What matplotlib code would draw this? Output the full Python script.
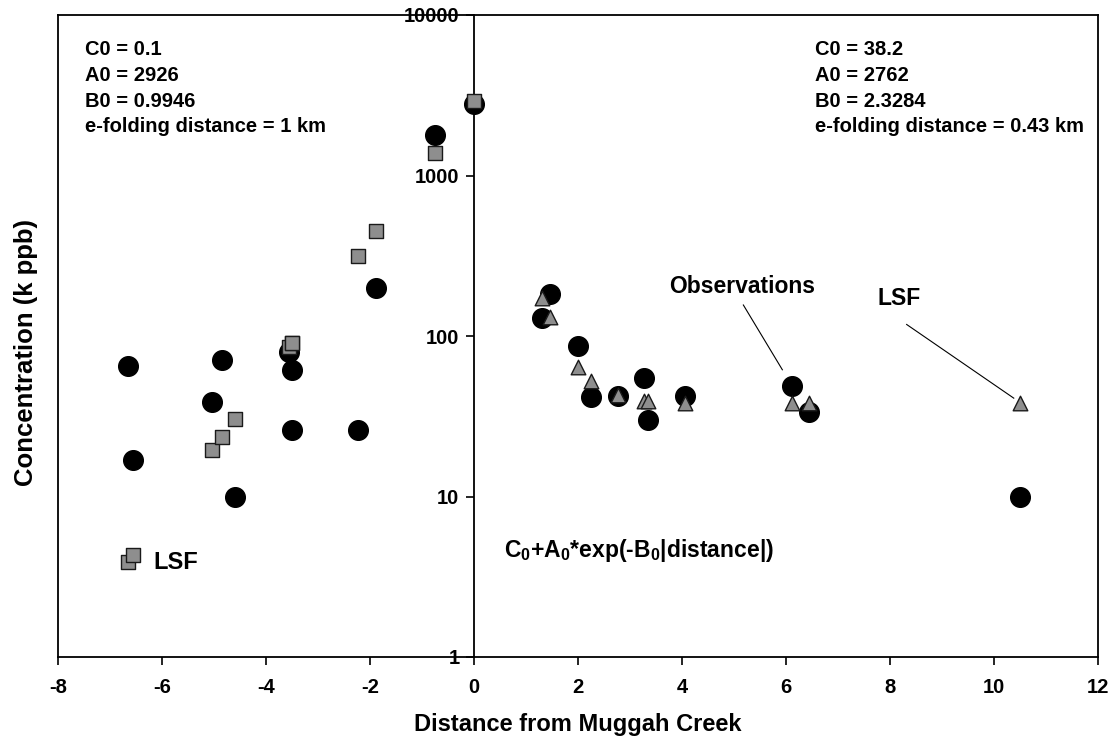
import matplotlib
matplotlib.use("Agg")
import matplotlib.pyplot as plt
from matplotlib.ticker import FixedLocator, NullLocator

plt.rcParams['font.family'] = ['Liberation Sans', 'DejaVu Sans']
plt.rcParams['font.weight'] = 'bold'
plt.rcParams['mathtext.fontset'] = 'custom'
plt.rcParams['mathtext.rm'] = 'Liberation Sans:bold'
plt.rcParams['mathtext.it'] = 'Liberation Sans:bold'
plt.rcParams['mathtext.bf'] = 'Liberation Sans:bold'

# west of the creek (negative distance): observations and least-squares fit
west_dist = [-6.65, -6.55, -5.04, -4.85, -4.60, -3.55, -3.50, -3.50, -2.24, -1.88, -0.75, 0.0]
west_obs = [65, 17, 39, 71, 10, 80, 61, 26, 26, 200, 1800, 2800]
west_lsf = [3.9, 4.3, 19.5, 23.5, 30.2, 85.7, 90, 90, 315, 450, 1388, 2926]

# east of the creek
east_dist = [1.30, 1.46, 2.00, 2.25, 2.76, 3.26, 3.35, 4.06, 6.11, 6.45, 10.5]
east_obs = [130, 182, 87, 41.5, 42, 55, 30, 42, 49, 33.5, 10]
east_lsf = [172, 132, 64.4, 52.8, 42.7, 39.6, 39.3, 38.4, 38.2, 38.2, 38.2]

west_params = ["C0 = 0.1", "A0 = 2926", "B0 = 0.9946", "e-folding distance = 1 km"]
east_params = ["C0 = 38.2", "A0 = 2762", "B0 = 2.3284", "e-folding distance = 0.43 km"]

y_ticks = [1, 10, 100, 1000, 10000]
x_ticks = list(range(-8, 13, 2))

GRAY = '#8e8e8e'
FS = 14.5

fig = plt.figure(figsize=(11.16, 7.4), dpi=100)
ax = fig.add_axes([58 / 1116, 83 / 740, 1040 / 1116, 642 / 740])

ax.scatter(west_dist, west_obs, s=200, c='black', zorder=3)
ax.scatter(east_dist, east_obs, s=200, c='black', zorder=3)
ax.scatter(west_dist, west_lsf, s=95, marker='s', c=GRAY, edgecolors='#1a1a1a',
           linewidths=1.0, zorder=4)
ax.scatter(east_dist, east_lsf, s=110, marker='^', c=GRAY, edgecolors='#1a1a1a',
           linewidths=1.0, zorder=4)

ax.set_xlim(-8, 12)
ax.set_yscale('log')
ax.set_ylim(1, 10000)

# y axis sits on the creek (distance 0); keep the frame closed on the left
ax.spines['left'].set_position(('data', 0))
for sp in ax.spines.values():
    sp.set_linewidth(1.3)
ax.axvline(-8, color='black', lw=1.3, clip_on=False, zorder=5)

ax.yaxis.set_major_locator(FixedLocator(y_ticks))
ax.yaxis.set_minor_locator(NullLocator())
ax.set_yticklabels([str(v) for v in y_ticks])
ax.set_xticks(x_ticks)
ax.set_xticklabels([str(v) for v in x_ticks])
ax.tick_params(axis='both', direction='out', length=6, width=1.2, labelsize=FS)
ax.tick_params(axis='x', pad=9)
ax.tick_params(axis='y', pad=4.5)

ax.set_xlabel('Distance from Muggah Creek', fontsize=17, fontweight='bold')
ax.xaxis.set_label_coords(0.5, -0.087)
ax.set_ylabel('Concentration (k ppb)', fontsize=18.5, fontweight='bold')
ax.yaxis.set_label_coords(-0.019, 0.475)

line_y = [0.9455, 0.905, 0.8645, 0.827]
for txt, yy in zip(west_params, line_y):
    ax.text(0.026, yy, txt, transform=ax.transAxes, fontsize=FS, va='center')
for txt, yy in zip(east_params, line_y):
    ax.text(0.728, yy, txt, transform=ax.transAxes, fontsize=FS, va='center')

ax.text(-6.17, 3.9, 'LSF', fontsize=17, va='center')
ax.text(0.58, 4.6, r'C$_0$+A$_0$*exp(-B$_0$|distance|)', fontsize=16.5, va='center')

# callouts for the east-side series
ax.text(5.16, 202, 'Observations', fontsize=16.5, ha='center', va='center')
ax.plot([5.18, 5.93], [156, 61.6], color='black', lw=0.8)
ax.text(8.18, 172, 'LSF', fontsize=16.5, ha='center', va='center')
ax.plot([8.32, 10.38], [118, 41], color='black', lw=0.8)

fig.savefig('out.png', dpi=100)
